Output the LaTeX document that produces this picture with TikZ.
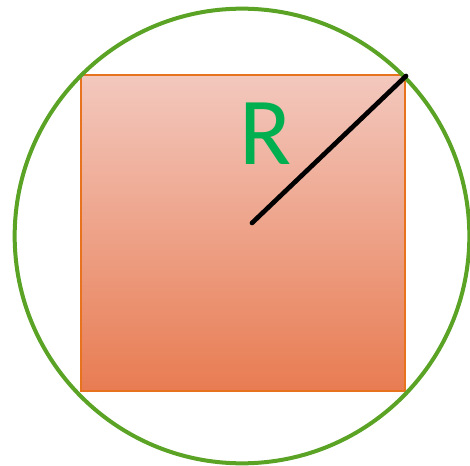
\documentclass[tikz,border=0pt]{standalone}
\usepackage{fontspec}
\setmainfont{Carlito}
\usepackage{tikz}
\usetikzlibrary{positioning,calc}
\definecolor{ringgreen}{HTML}{5AA325}
\definecolor{sqedge}{HTML}{E8731E}
\definecolor{sqtop}{HTML}{F3C8BE}
\definecolor{sqbot}{HTML}{E87C52}
\definecolor{rgreen}{HTML}{00B050}
\begin{document}
\begin{tikzpicture}[x=0.75pt,y=-0.75pt,
  ring/.style={draw=ringgreen,line width=3pt},
  square/.style={draw=sqedge,line width=1.8pt,top color=sqtop,bottom color=sqbot},
  radius line/.style={line width=3.5pt,line cap=round}]
\useasboundingbox (0,0) rectangle (470,466);
\fill[white] (0,0) rectangle (470,466);
\filldraw[square] (81,75) rectangle (405,391);
\draw[ring] (242,236) circle[radius=170.5pt];
\coordinate (mid) at (252,223);
\coordinate (corner) at (406,76);
\draw[radius line] (mid) -- (corner);
\node[text=rgreen,font=\fontsize{72}{72}\selectfont,inner sep=0pt] (r) at (266,134) {R};
\end{tikzpicture}
\end{document}
